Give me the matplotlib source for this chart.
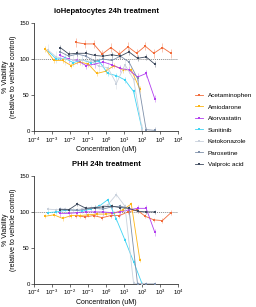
import numpy as np
import matplotlib
matplotlib.use("Agg")
import matplotlib.pyplot as plt
from matplotlib.lines import Line2D

# concentrations (uM), 3-fold dilution series, low -> high
k = np.arange(11, -1, -1)
conc_apap = 4000 / 3.0 ** k
conc_amio = 75 / 3.0 ** k
conc_ator = 500 / 3.0 ** k
conc_suni = 100 / 3.0 ** k
conc_keto = 100 / 3.0 ** k
conc_parox = 500 / 3.0 ** k
conc_vpa = 500 / 3.0 ** k

drugs = ["Acetaminophen", "Amiodarone", "Atorvastatin", "Sunitinib",
         "Ketokonazole", "Paroxetine", "Valproic acid"]
colors = ["#F26B3A", "#FDB515", "#B23FEF", "#3FD4F4",
          "#C9D1DC", "#7F90AA", "#3E4A5D"]
concs = [conc_apap, conc_amio, conc_ator, conc_suni, conc_keto, conc_parox, conc_vpa]

# ioHepatocytes 24h
io_apap = [123, 121, 121, 107, 116, 107, 117, 108, 118, 108, 116, 108]
io_amio = [114, 98, 98, 91, 96, 93, 80, 83, 91, 85, 85, 58]
io_ator = [105, 100, 98, 91, 93, 96, 92, 87, 85, 75, 80, 45]
io_suni = [112, 100, 101, 95, 99, 95, 97, 80, 77, 71, 55, 2]
io_keto = [113, 103, 100, 99, 98, 97, 90, 88, 66, 92, 72, 2]
io_parox = [110, 104, 107, 104, 97, 100, 98, 104, 96, 73, 2, 1]
io_vpa = [116, 107, 108, 108, 105, 104, 106, 104, 110, 101, 103, 93]
io_err = [6, 4, 5, 4, 8, 4, 4]

# PHH 24h
phh_apap = [95, 93, 95, 92, 95, 95, 100, 103, 94, 89, 88, 99]
phh_amio = [94, 96, 91, 95, 95, 96, 97, 97, 98, 103, 111, 33]
phh_ator = [98, 98, 99, 100, 100, 100, 99, 100, 103, 105, 105, 72]
phh_suni = [99, 100, 102, 103, 101, 104, 108, 117, 90, 61, 31, 0]
phh_keto = [104, 103, 104, 103, 104, 106, 107, 110, 124, 108, 1, 0]
phh_parox = [104, 103, 102, 104, 105, 104, 107, 108, 105, 0, 0, 0]
phh_vpa = [103, 103, 111, 105, 106, 107, 108, 106, 105, 101, 100, 100]
phh_err = [3, 3, 5, 3, 3, 3, 3]

io_data = [io_apap, io_amio, io_ator, io_suni, io_keto, io_parox, io_vpa]
phh_data = [phh_apap, phh_amio, phh_ator, phh_suni, phh_keto, phh_parox, phh_vpa]

plt.rcParams['font.family'] = ['Liberation Sans', 'DejaVu Sans']

fig = plt.figure(figsize=(2.56, 3.07), dpi=100)
ax1 = fig.add_axes([0.133, 0.573, 0.563, 0.352])
ax2 = fig.add_axes([0.133, 0.075, 0.563, 0.352])


def light(c, f=0.45):
    rgb = np.array(matplotlib.colors.to_rgb(c))
    return tuple(rgb + (1 - rgb) * f)


def draw(ax, data, errs, title):
    ax.axhline(100, color="#888888", lw=0.7, ls=(0, (1, 1)), zorder=1)
    for x, y, c, e in zip(concs, data, colors, errs):
        ax.errorbar(x, y, yerr=e, color=c, ecolor=light(c), elinewidth=0.5,
                    capsize=0, lw=0.6, marker="s", ms=2.1, mew=0, zorder=3)
    ax.set_xscale("log")
    ax.set_xlim(1e-4, 1e4)
    ax.set_ylim(0, 150)
    ax.set_xticks([10.0 ** p for p in range(-4, 5)])
    ax.set_yticks([0, 50, 100, 150])
    ax.minorticks_off()
    for s in ["top", "right"]:
        ax.spines[s].set_visible(False)
    for s in ["left", "bottom"]:
        ax.spines[s].set_linewidth(0.6)
        ax.spines[s].set_color("#333333")
    ax.tick_params(labelsize=4.3, width=0.5, length=2, pad=1, color="#333333")
    ax.set_xlabel("Concentration (uM)", fontsize=5, labelpad=1)
    ax.set_ylabel("% Viability\n(relative to vehicle control)", fontsize=5, labelpad=2)
    ax.set_title(title, fontsize=5.5, fontweight="bold", pad=7)


draw(ax1, io_data, io_err, "ioHepatocytes 24h treatment")
draw(ax2, phh_data, phh_err, "PHH 24h treatment")

handles = [Line2D([], [], color=c, lw=0.6, marker="s", ms=2.1, mew=0) for c in colors]
fig.legend(handles, drugs, loc="center left", bbox_to_anchor=(0.74, 0.577),
           frameon=False, fontsize=4.6, handlelength=1.2, labelspacing=0.95,
           handletextpad=0.8)

fig.savefig("out.png", dpi=100)
